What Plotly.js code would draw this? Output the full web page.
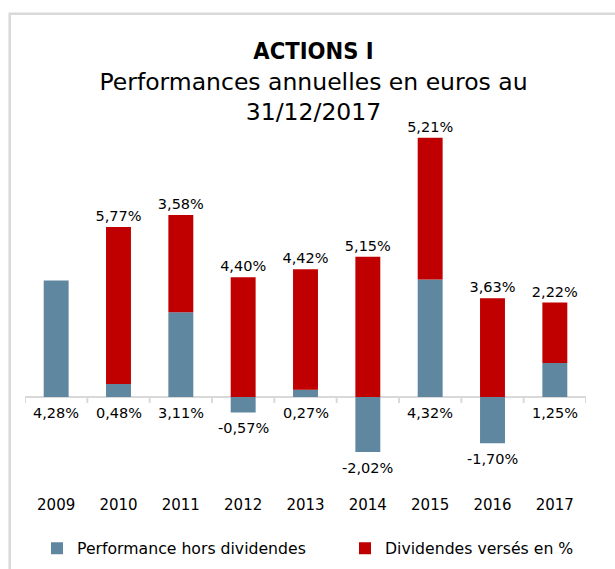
<!DOCTYPE html>
<html><head><meta charset="utf-8">
<script src="https://cdn.plot.ly/plotly-3.0.1.min.js"></script>
<style>html,body{margin:0;padding:0;background:#fff}#chart{width:615px;height:569px}</style>
</head><body><div id="chart"></div>
<script>
// ---- data ----
const years = ['2009','2010','2011','2012','2013','2014','2015','2016','2017'];
const perfHorsDividendes = [4.28, 0.48, 3.11, -0.57, 0.27, -2.02, 4.32, -1.70, 1.25];
const dividendesVerses = [null, 5.77, 3.58, 4.40, 4.42, 5.15, 5.21, 3.63, 2.22];
const seriesNames = ['Performance hors dividendes', 'Dividendes versés en %'];

// ---- styling ----
const BLUE = '#5F87A0', RED = '#C00000', GREY = '#D9D9D9';
const FONT = 'DejaVu Sans';
const W = 615, H = 569, M = {l: 25, r: 29, t: 120, b: 75};
const pw = W - M.l - M.r, ph = H - M.t - M.b;
const px2x = p => (p - M.l) / pw;
const px2y = p => (H - M.b - p) / ph;
const fmt = v => (v === null ? '' : v.toFixed(2).replace('.', ',') + '%');

const traces = [
  {type: 'bar', name: seriesNames[0], x: years, y: perfHorsDividendes, legend: 'legend',
   marker: {color: BLUE, line: {width: 0}}, textposition: 'none', hoverinfo: 'x+y'},
  {type: 'bar', name: seriesNames[1], x: years, y: dividendesVerses, legend: 'legend2',
   marker: {color: RED, line: {width: 0}},
   text: dividendesVerses.map(fmt), textposition: 'outside', constraintext: 'none',
   textfont: {family: FONT, size: 14.5, color: '#000'}, cliponaxis: false, hoverinfo: 'x+y'}
];

// labels of the blue series: under the zero line, or under the end of a negative bar
// (category axis: x given as the category's index)
const annotations = perfHorsDividendes.map((v, i) => ({
  xref: 'x', yref: 'y', x: i, y: Math.min(v, 0), text: fmt(v),
  showarrow: false, xanchor: 'center', yanchor: 'middle', yshift: -16,
  font: {family: FONT, size: 14.5, color: '#000'}
}));

const shapes = [];
for (let i = 0; i <= years.length; i++) {
  shapes.push({type: 'line', xref: 'x', yref: 'y', ysizemode: 'pixel', yanchor: 0,
    x0: i - 0.5, x1: i - 0.5, y0: 0, y1: -6, line: {color: GREY, width: 2}});
}
shapes.push({type: 'rect', xref: 'paper', yref: 'paper', layer: 'below',
  x0: px2x(9.7), x1: px2x(700), y0: px2y(700), y1: px2y(13.8),
  line: {color: GREY, width: 2.5}, fillcolor: 'rgba(0,0,0,0)'});

const legendBase = {orientation: 'h', xanchor: 'left', yref: 'container', y: 1 - 548.5 / H,
  yanchor: 'middle', font: {family: FONT, size: 15.7, color: '#000'}, bgcolor: 'rgba(0,0,0,0)'};

const layout = {
  width: W, height: H, margin: M,
  paper_bgcolor: '#fff', plot_bgcolor: '#fff',
  font: {family: FONT, color: '#000'},
  separators: ', ',
  barmode: 'relative', bargap: 0.6,
  showlegend: true,
  title: {text: '<b><span style="font-family:\'DejaVu Sans Condensed\'">ACTIONS I</span></b><br>Performances annuelles en euros au<br>31/12/2017',
    font: {family: FONT, size: 23.5, color: '#000'},
    xref: 'container', x: 313.5 / W, xanchor: 'center',
    yref: 'container', y: 1 - 59 / H, yanchor: 'top'},
  xaxis: {type: 'category', range: [-0.5, years.length - 0.5], showline: false,
    showgrid: false, zeroline: false, ticks: '', tickfont: {family: FONT, size: 15, color: '#000'},
    fixedrange: true},
  yaxis: {range: [-3.566, 10.18], showgrid: false, showticklabels: false, ticks: '',
    zeroline: true, zerolinecolor: GREY, zerolinewidth: 2.5, showline: false, fixedrange: true},
  legend: Object.assign({}, legendBase, {x: px2x(37)}),
  legend2: Object.assign({}, legendBase, {x: px2x(345)}),
  annotations: annotations,
  shapes: shapes
};

Plotly.newPlot('chart', traces, layout, {displayModeBar: false, staticPlot: true});
</script>
</body></html>
